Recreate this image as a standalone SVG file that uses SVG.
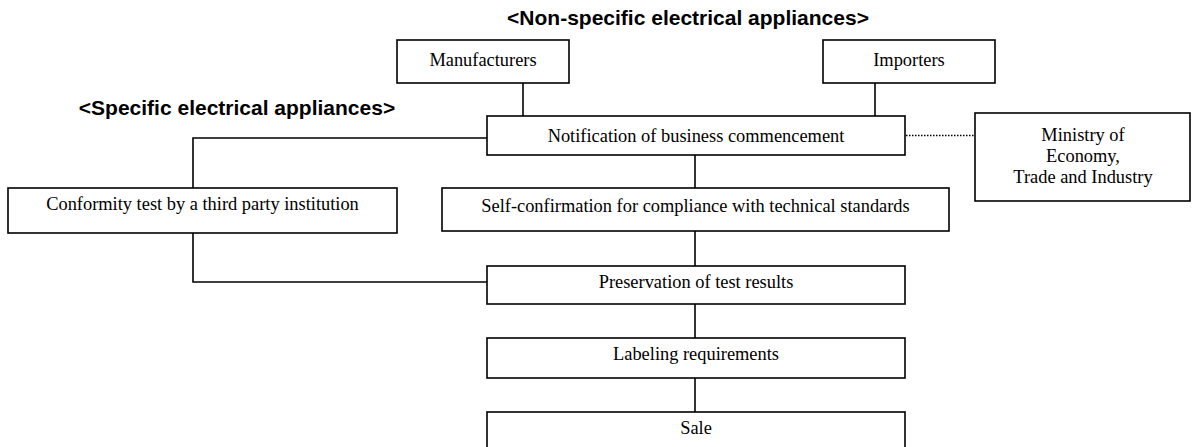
<svg xmlns="http://www.w3.org/2000/svg" width="1192" height="447" viewBox="0 0 1192 447">
<style>
rect.box{fill:#fff;stroke:#000;stroke-width:1.6}
.lbl{font-family:"Liberation Serif","Times New Roman",serif;font-size:18.4px;fill:#000;text-anchor:middle}
.ttl{font-family:"Liberation Sans",Arial,sans-serif;font-size:21px;font-weight:bold;fill:#000;text-anchor:middle}
.ln{fill:none;stroke:#000;stroke-width:1.6}
.dot{fill:none;stroke:#000;stroke-width:1.3;stroke-dasharray:1.5 1.5}
</style>
<rect width="1192" height="447" fill="#fff"/>
<text class="ttl" x="688" y="25">&lt;Non-specific electrical appliances&gt;</text>
<text class="ttl" x="237" y="115">&lt;Specific electrical appliances&gt;</text>
<g id="connectors">
<line class="ln" x1="523" y1="83" x2="523" y2="116"/>
<line class="ln" x1="875" y1="83" x2="875" y2="116"/>
<polyline class="ln" points="487,138 193,138 193,188"/>
<polyline class="ln" points="193,233 193,282 487,282"/>
<line class="ln" x1="695" y1="155" x2="695" y2="188"/>
<line class="ln" x1="695" y1="231" x2="695" y2="266"/>
<line class="ln" x1="695" y1="304" x2="695" y2="338"/>
<line class="ln" x1="695" y1="378" x2="695" y2="412"/>
<line class="dot" x1="906" y1="135.5" x2="975" y2="135.5"/>
</g>
<g id="manufacturers">
<rect class="box" x="397" y="40" width="172" height="43"/>
<text class="lbl" x="483" y="66">Manufacturers</text>
</g>
<g id="importers">
<rect class="box" x="823" y="40" width="172" height="43"/>
<text class="lbl" x="909" y="66">Importers</text>
</g>
<g id="notification">
<rect class="box" x="487" y="116" width="418" height="39"/>
<text class="lbl" x="696" y="142">Notification of business commencement</text>
</g>
<g id="ministry">
<rect class="box" x="975" y="113" width="215" height="88"/>
<text class="lbl" x="1083" y="140.5">Ministry of</text>
<text class="lbl" x="1083" y="161.5">Economy,</text>
<text class="lbl" x="1083" y="182.5">Trade and Industry</text>
</g>
<g id="conformity">
<rect class="box" x="8" y="188" width="389" height="45"/>
<text class="lbl" x="202.5" y="209.5">Conformity test by a third party institution</text>
</g>
<g id="self-confirmation">
<rect class="box" x="442" y="188" width="507" height="43"/>
<text class="lbl" x="695.5" y="211.5">Self-confirmation for compliance with technical standards</text>
</g>
<g id="preservation">
<rect class="box" x="487" y="266" width="418" height="38"/>
<text class="lbl" x="696" y="287.5">Preservation of test results</text>
</g>
<g id="labeling">
<rect class="box" x="487" y="338" width="418" height="40"/>
<text class="lbl" x="696" y="360">Labeling requirements</text>
</g>
<g id="sale">
<rect class="box" x="487" y="412" width="418" height="40"/>
<text class="lbl" x="696" y="433.5">Sale</text>
</g>
</svg>
